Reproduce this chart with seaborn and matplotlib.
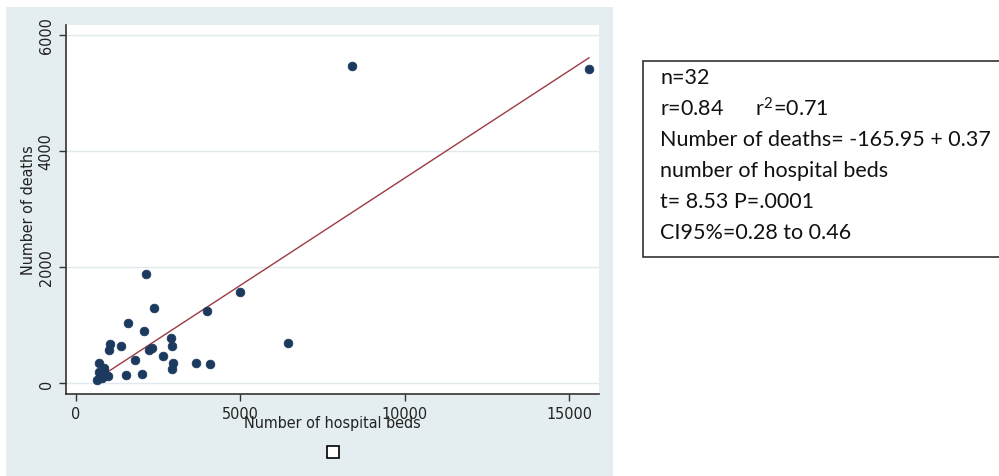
import numpy as np
import matplotlib
matplotlib.use('Agg')
import matplotlib.pyplot as plt
import pandas as pd
import seaborn as sns
from matplotlib.patches import Rectangle

# values
beds = [2130, 4985, 2370, 3980, 1580, 2070, 2890, 1035, 1360, 1010,
        2910, 2310, 2210, 6440, 2640, 1795, 710, 2960, 3640, 4065,
        850, 710, 2910, 975, 1530, 2005, 650, 730, 850, 790,
        8400, 15600]
deaths = [1880, 1575, 1295, 1240, 1030, 890, 770, 665, 640, 570,
          645, 600, 565, 685, 460, 400, 345, 345, 350, 335,
          265, 195, 235, 120, 145, 150, 50, 125, 190, 85,
          5470, 5410]
intercept = -165.95
slope = 0.37
x_ticks = [0, 5000, 10000, 15000]
y_ticks = [0, 2000, 4000, 6000]
stats_lines = ["n=32",
               "r=0.84      r$^{2}$=0.71",
               "Number of deaths= -165.95 + 0.37",
               "number of hospital beds",
               "t= 8.53 P=.0001",
               "CI95%=0.28 to 0.46"]

df = pd.DataFrame({'beds': beds, 'deaths': deaths})
fit = pd.DataFrame({'beds': [min(beds), max(beds)]})
fit['deaths'] = intercept + slope * fit['beds']

sns.set_style('white')
plt.rcParams['font.family'] = ['DejaVu Sans']
plt.rcParams['font.stretch'] = 'condensed'
plt.rcParams['mathtext.default'] = 'regular'

W, H = 999, 477
fig = plt.figure(figsize=(W / 100, H / 100), dpi=100)
fig.patch.set_facecolor('white')

# stata style grey panel
fig.patches.append(Rectangle((6 / W, 0), 607 / W, 1 - 8 / H, transform=fig.transFigure,
                             facecolor='#e4edef', edgecolor='none', zorder=-10))

ax = fig.add_axes([66 / W, (H - 395) / H, 533 / W, 369 / H])
ax.set_facecolor('white')

sns.lineplot(data=fit, x='beds', y='deaths', color='#9b3a44', lw=1.0, ax=ax, zorder=2)
sns.scatterplot(data=df, x='beds', y='deaths', color='#1b3a5e', s=40, edgecolor='#1b3a5e',
                linewidth=0.5, ax=ax, zorder=3)

ax.set_xlim(-304, 15900)
ax.set_ylim(-190, 6170)
ax.set_xticks(x_ticks)
ax.set_yticks(y_ticks)
ax.set_xticklabels([str(t) for t in x_ticks], fontsize=11.5, color='#222222')
ax.set_yticklabels([str(t) for t in y_ticks], fontsize=11.5, color='#222222',
                   rotation=90, va='center')
ax.grid(axis='y', color='#e0eaec', lw=1.0)
ax.set_axisbelow(True)
ax.tick_params(axis='both', direction='out', length=5, width=1, color='#333333',
               bottom=True, left=True, pad=4)
for s in ['top', 'right']:
    ax.spines[s].set_visible(False)
for s in ['left', 'bottom']:
    ax.spines[s].set_color('#333333')
    ax.spines[s].set_linewidth(1.2)

ax.set_xlabel('Number of hospital beds', fontsize=11.5, color='#222222', labelpad=-5)
ax.set_ylabel('Number of deaths', fontsize=11.5, color='#222222', labelpad=2)

# empty legend key
fig.patches.append(Rectangle((327 / W, 1 - 459 / H), 12 / W, 12 / H, transform=fig.transFigure,
                             facecolor='white', edgecolor='black', lw=1.2))

# stats box
fig.patches.append(Rectangle((643 / W, 1 - 258 / H), 400 / W, 196 / H, transform=fig.transFigure,
                             facecolor='white', edgecolor='#333333', lw=1.2))
for i, line in enumerate(stats_lines):
    fig.text(660 / W, 1 - (78 + 31 * i) / H, line, fontsize=15.5, family=['Lato', 'DejaVu Sans'],
             stretch='normal', color='#111111', va='center', ha='left')

fig.savefig('out.png', dpi=100)
